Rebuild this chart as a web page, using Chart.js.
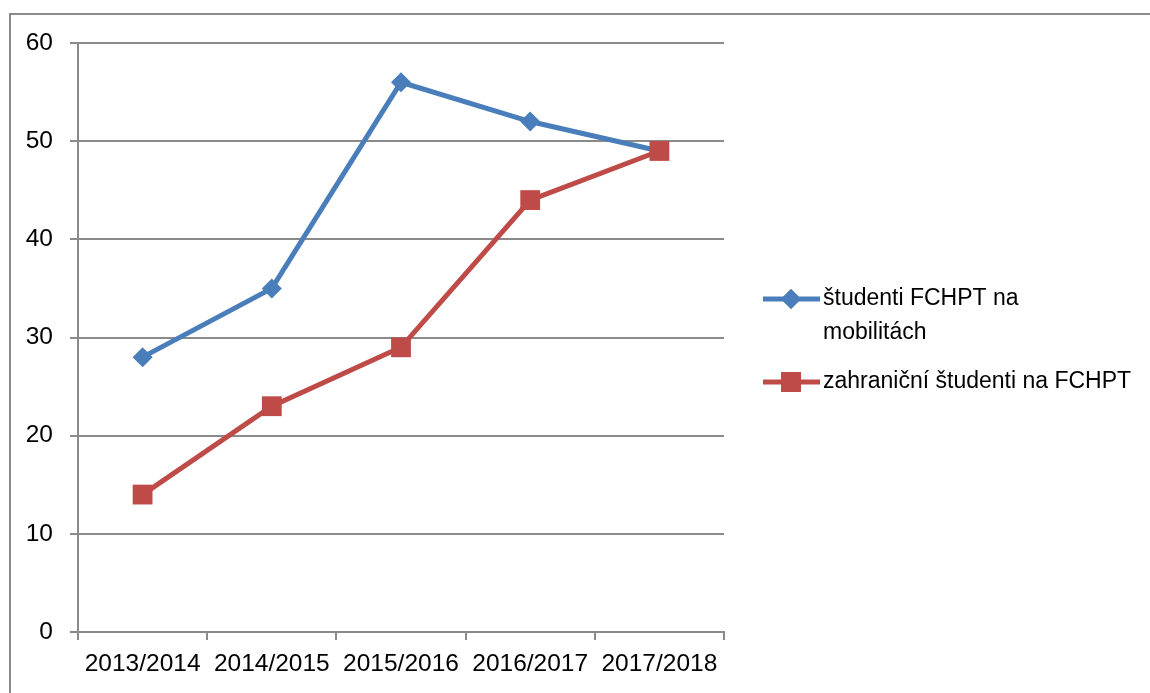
<!DOCTYPE html>
<html>
<head>
<meta charset="utf-8">
<script src="https://cdn.jsdelivr.net/npm/chart.js@4"></script>
<style>
  body { margin: 0; background: #fff; }
  #marco { position: absolute; left: 9px; top: 13px; width: 1200px; height: 720px;
           border-top: 2px solid #8a8a8a; border-left: 2px solid #8a8a8a; }
  #wrap { position: absolute; left: 0; top: 0; width: 1150px; height: 693px; }
</style>
</head>
<body>
<div id="marco"></div>
<div id="wrap"><canvas id="myChart" width="1150" height="693"></canvas></div>
<script>
const roky = ['2013/2014', '2014/2015', '2015/2016', '2016/2017', '2017/2018'];
const mobility = [28, 35, 56, 52, 49];
const zahranicni = [14, 23, 29, 44, 49];
const legenda1 = ['študenti FCHPT na', 'mobilitách'];
const legenda2 = ['zahraniční študenti na FCHPT'];
const yTicks = [0, 10, 20, 30, 40, 50, 60];

const modra = '#4a7ebb';
const cervena = '#be4b48';
const siva = '#8a8a8a';

Chart.defaults.font.family = "'Liberation Sans', Arial, sans-serif";
Chart.defaults.color = '#000';

// legenda vpravo, kreslena rucne kvoli zalomeniu textu
const legendaPlugin = {
    id: 'legendaVpravo',
    afterDraw(chart) {
        const ctx = chart.ctx;
        const polozky = [
            { text: legenda1, farba: modra, tvar: 'rectRot', r: 10, y: 299 },
            { text: legenda2, farba: cervena, tvar: 'rect', r: 14, y: 382 }
        ];
        ctx.save();
        polozky.forEach(p => {
            ctx.strokeStyle = p.farba;
            ctx.lineWidth = 5;
            ctx.beginPath();
            ctx.moveTo(763, p.y);
            ctx.lineTo(820, p.y);
            ctx.stroke();
            ctx.fillStyle = p.farba;
            Chart.helpers.drawPoint(ctx, { pointStyle: p.tvar, radius: p.r, borderWidth: 0 }, 791, p.y);
            ctx.fill();
            ctx.fillStyle = '#000';
            ctx.font = "23px 'Liberation Sans', Arial, sans-serif";
            ctx.textBaseline = 'middle';
            p.text.forEach((riadok, i) => ctx.fillText(riadok, 823, p.y + i * 34));
        });
        ctx.restore();
    }
};

const ctx = document.getElementById('myChart').getContext('2d');

const myChart = new Chart(ctx, {
    type: 'line',
    data: {
        labels: roky,
        datasets: [{
            label: legenda1.join(' '),
            data: mobility,
            borderColor: modra,
            backgroundColor: modra,
            borderWidth: 5,
            pointStyle: 'rectRot',
            pointRadius: 10,
            pointBorderWidth: 0,
            order: 1
        }, {
            label: legenda2[0],
            data: zahranicni,
            borderColor: cervena,
            backgroundColor: cervena,
            borderWidth: 5,
            pointStyle: 'rect',
            pointRadius: 14,
            pointBorderWidth: 0,
            order: 0
        }]
    },
    options: {
        responsive: false,
        animation: false,
        layout: { padding: { left: 0, top: 43, right: 426, bottom: 0 } },
        plugins: { legend: { display: false }, tooltip: { enabled: false } },
        scales: {
            x: {
                offset: true,
                afterFit(axis) { axis.height = 61; },
                grid: { offset: true, drawOnChartArea: false, tickLength: 8, color: siva, lineWidth: 2 },
                border: { color: siva, width: 2 },
                ticks: { font: { size: 24.5 }, padding: 10, maxRotation: 0 }
            },
            y: {
                min: 0,
                max: 60,
                afterFit(axis) { axis.width = 78; },
                afterBuildTicks(axis) { axis.ticks = yTicks.map(v => ({ value: v })); },
                grid: { tickLength: 8, color: siva, lineWidth: 2 },
                border: { color: siva, width: 2 },
                ticks: { font: { size: 24.5 }, padding: 17 }
            }
        }
    },
    plugins: [legendaPlugin]
});
</script>
</body>
</html>
